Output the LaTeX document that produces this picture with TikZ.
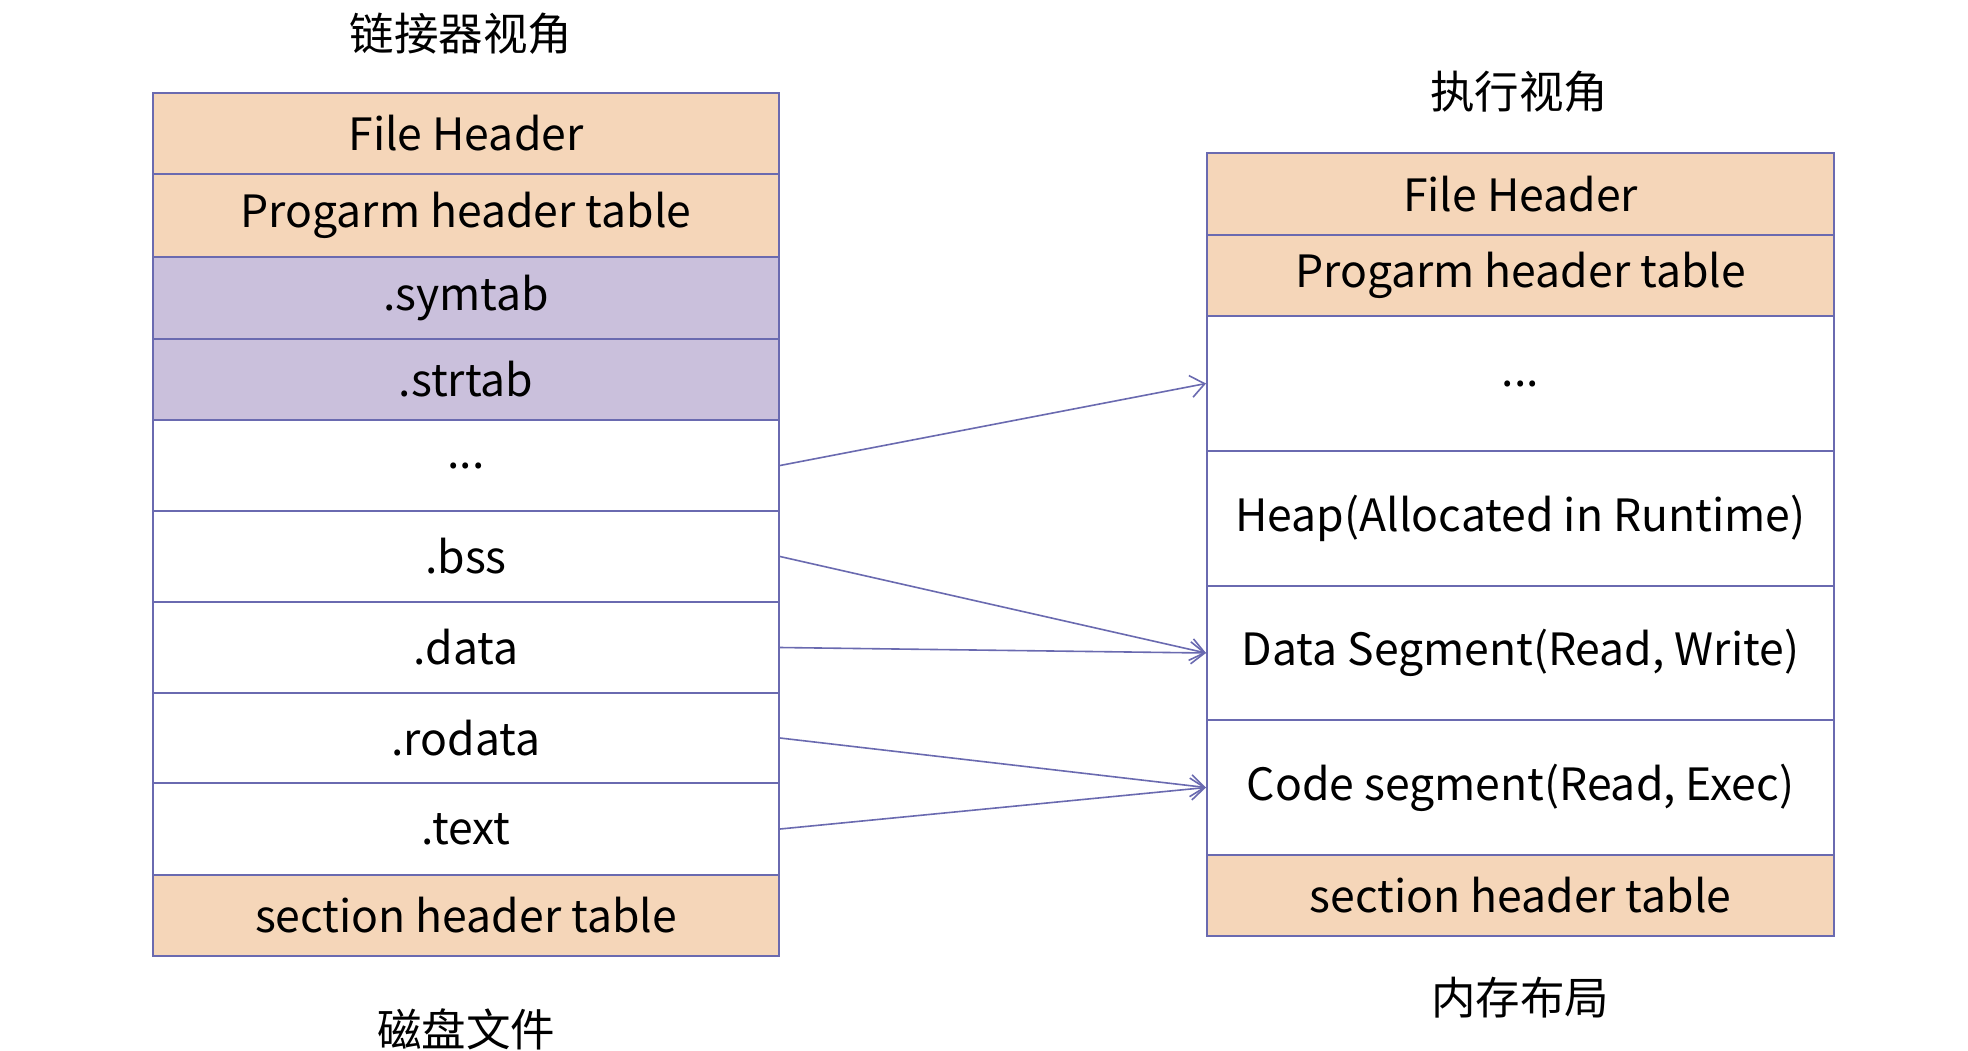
\documentclass[tikz,border=0pt]{standalone}
\usepackage{fontspec}
\setmainfont{Noto Sans CJK SC}
\usetikzlibrary{arrows.meta}
\definecolor{peach}{HTML}{F5D6B9}
\definecolor{lav}{HTML}{CAC0DC}
\definecolor{edge}{HTML}{6A6AB0}
\tikzset{
  rowbox/.style={draw=edge, line width=2pt, inner sep=0pt, font=\fontsize{44.5}{52}\selectfont},
  lrow/.style={rowbox, minimum width=626pt},
  rrow/.style={rowbox, minimum width=627pt},
  title/.style={font=\fontsize{44.5}{52}\selectfont, inner sep=0pt},
  link/.style={draw=edge, line width=1.6pt, -{Straight Barb[length=14pt,width=22pt,line width=1.6pt]}}
}
\begin{document}
\begin{tikzpicture}[x=1pt,y=-1pt]
\useasboundingbox (0,0) rectangle (1968,1050);
\fill[white] (0,0) rectangle (1968,1050);
% left column
\node[lrow, fill=peach, minimum height=81pt] (l1) at (466,133.5) {File Header};
\node[lrow, fill=peach, minimum height=83pt] (l2) at (466,215.5) {Progarm header table};
\node[lrow, fill=lav, minimum height=82pt] (l3) at (466,298) {.symtab};
\node[lrow, fill=lav, minimum height=81pt] (l4) at (466,379.5) {.strtab};
\node[lrow, fill=white, minimum height=91pt] (l5) at (466,465.5) {...};
\node[lrow, fill=white, minimum height=91pt] (l6) at (466,556.5) {.bss};
\node[lrow, fill=white, minimum height=91pt] (l7) at (466,647.5) {.data};
\node[lrow, fill=white, minimum height=90pt] (l8) at (466,738) {.rodata};
\node[lrow, fill=white, minimum height=92pt] (l9) at (466,829) {.text};
\node[lrow, fill=peach, minimum height=81pt] (l10) at (466,915.5) {section header table};
% right column
\node[rrow, fill=peach, minimum height=82pt] (r1) at (1520.5,194) {File Header};
\node[rrow, fill=peach, minimum height=81pt] (r2) at (1520.5,275.5) {Progarm header table};
\node[rrow, fill=white, minimum height=135pt] (r3) at (1520.5,383.5) {...};
\node[rrow, fill=white, minimum height=135pt] (r4) at (1520.5,518.5) {Heap(Allocated in Runtime)};
\node[rrow, fill=white, minimum height=134pt] (r5) at (1520.5,653) {Data Segment(Read, Write)};
\node[rrow, fill=white, minimum height=135pt] (r6) at (1520.5,787.5) {Code segment(Read, Exec)};
\node[rrow, fill=peach, minimum height=81pt] (r7) at (1520.5,895.5) {section header table};
% titles
\node[title] (t1) at (461,34) {链接器视角};
\node[title] (t2) at (1519,92) {执行视角};
\node[title] (t3) at (466,1029) {磁盘文件};
\node[title] (t4) at (1520,998) {内存布局};
% connectors
\draw[link] (l5.east) -- (r3.west);
\draw[link] (l6.east) -- (r5.west);
\draw[link] (l7.east) -- (r5.west);
\draw[link] (l8.east) -- (r6.west);
\draw[link] (l9.east) -- (r6.west);
\end{tikzpicture}
\end{document}
